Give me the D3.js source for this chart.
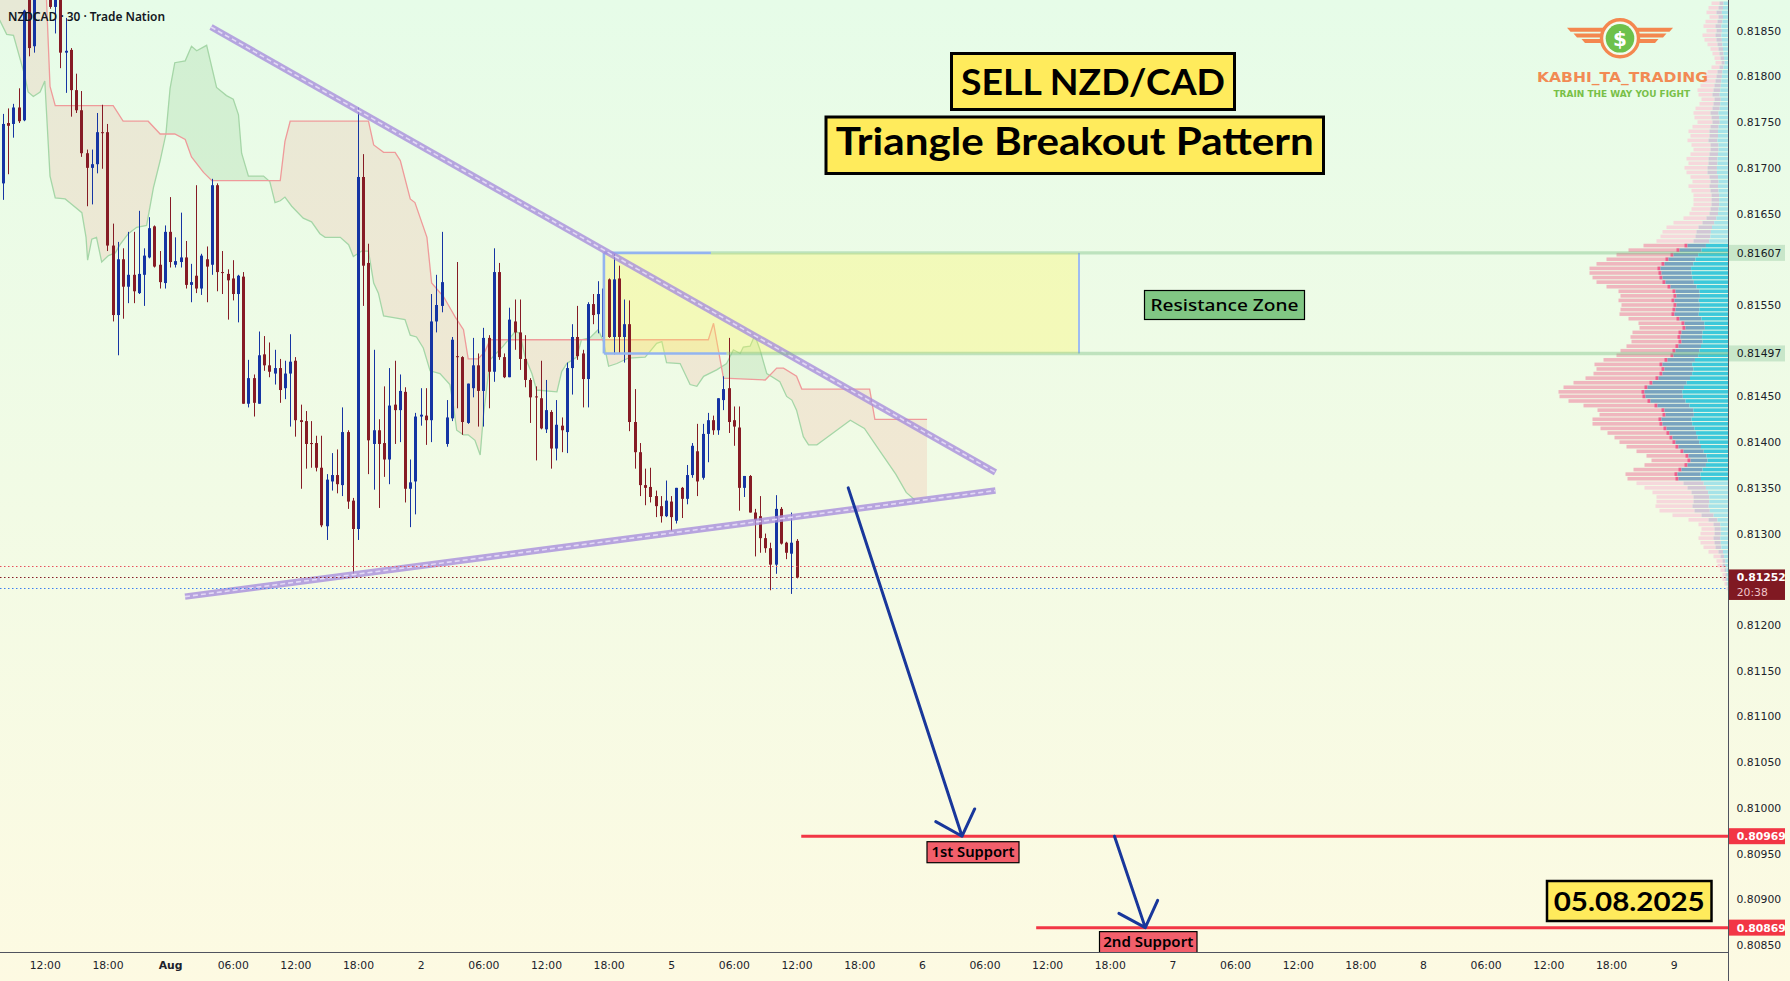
<!DOCTYPE html>
<html>
<head>
<meta charset="utf-8">
<title>NZDCAD 30 - Triangle Breakout</title>
<script src="https://cdn.jsdelivr.net/npm/d3@7"></script>
<style>
  html, body { margin: 0; padding: 0; overflow: hidden; }
  svg { display: block; }
</style>
</head>
<body>
<svg id="chart" width="1790" height="981"></svg>
<script>
// ---- data: NZDCAD 30m bars, bar index 0 = Jul 31 12:00 ----
const candleStart = -8;
const opens = [
  0.81683, 0.81749, 0.81748, 0.81766, 0.81752, 0.81895, 0.81833, 0.81898, 0.81910, 0.81896,
  0.81876, 0.81890, 0.81826, 0.81829, 0.81785, 0.81763, 0.81716, 0.81700, 0.81704, 0.81739,
  0.81739, 0.81615, 0.81539, 0.81600, 0.81570, 0.81583, 0.81563, 0.81583, 0.81602, 0.81636,
  0.81594, 0.81574, 0.81630, 0.81594, 0.81597, 0.81602, 0.81572, 0.81582, 0.81568, 0.81600,
  0.81594, 0.81681, 0.81586, 0.81584, 0.81579, 0.81562, 0.81581, 0.81442, 0.81470, 0.81442,
  0.81496, 0.81484, 0.81475, 0.81481, 0.81459, 0.81475, 0.81489, 0.81424, 0.81423, 0.81399,
  0.81399, 0.81372, 0.81308, 0.81357, 0.81364, 0.81353, 0.81411, 0.81336, 0.81305, 0.81690,
  0.81596, 0.81398, 0.81413, 0.81399, 0.81381, 0.81441, 0.81435, 0.81455, 0.81349, 0.81357,
  0.81428, 0.81429, 0.81424, 0.81532, 0.81549, 0.81398, 0.81426, 0.81494, 0.81493, 0.81421,
  0.81459, 0.81484, 0.81456, 0.81514, 0.81477, 0.81586, 0.81493, 0.81471, 0.81532, 0.81520,
  0.81491, 0.81468, 0.81450, 0.81448, 0.81414, 0.81433, 0.81393, 0.81418, 0.81411, 0.81481,
  0.81515, 0.81497, 0.81469, 0.81551, 0.81540, 0.81515, 0.81578, 0.81515, 0.81579, 0.81515,
  0.81529, 0.81422, 0.81389, 0.81353, 0.81351, 0.81341, 0.81330, 0.81319, 0.81335, 0.81314,
  0.81350, 0.81338, 0.81364, 0.81390, 0.81361, 0.81409, 0.81424, 0.81413, 0.81446, 0.81459,
  0.81424, 0.81416, 0.81350, 0.81363, 0.81323, 0.81319, 0.81295, 0.81284, 0.81266, 0.81327,
  0.81290, 0.81278, 0.81292
];
const highs = [
  0.81759, 0.81765, 0.81770, 0.81787, 0.81873, 0.81900, 0.81905, 0.81918, 0.81915, 0.81900,
  0.81895, 0.81895, 0.81864, 0.81831, 0.81803, 0.81784, 0.81720, 0.81720, 0.81760, 0.81769,
  0.81748, 0.81639, 0.81619, 0.81612, 0.81630, 0.81630, 0.81653, 0.81612, 0.81646, 0.81637,
  0.81609, 0.81637, 0.81668, 0.81624, 0.81651, 0.81620, 0.81595, 0.81681, 0.81606, 0.81614,
  0.81688, 0.81683, 0.81609, 0.81589, 0.81599, 0.81583, 0.81586, 0.81490, 0.81474, 0.81521,
  0.81516, 0.81509, 0.81501, 0.81491, 0.81489, 0.81518, 0.81493, 0.81441, 0.81434, 0.81423,
  0.81407, 0.81407, 0.81365, 0.81388, 0.81392, 0.81438, 0.81413, 0.81339, 0.81766, 0.81715,
  0.81617, 0.81501, 0.81425, 0.81461, 0.81481, 0.81489, 0.81474, 0.81460, 0.81381, 0.81432,
  0.81459, 0.81459, 0.81562, 0.81583, 0.81630, 0.81446, 0.81515, 0.81597, 0.81494, 0.81464,
  0.81514, 0.81497, 0.81525, 0.81517, 0.81612, 0.81596, 0.81497, 0.81547, 0.81556, 0.81556,
  0.81517, 0.81470, 0.81461, 0.81489, 0.81468, 0.81435, 0.81446, 0.81427, 0.81487, 0.81529,
  0.81549, 0.81501, 0.81553, 0.81562, 0.81576, 0.81580, 0.81579, 0.81607, 0.81593, 0.81556,
  0.81555, 0.81458, 0.81399, 0.81371, 0.81372, 0.81347, 0.81341, 0.81358, 0.81341, 0.81350,
  0.81351, 0.81375, 0.81399, 0.81420, 0.81420, 0.81432, 0.81429, 0.81448, 0.81472, 0.81514,
  0.81439, 0.81439, 0.81363, 0.81364, 0.81327, 0.81341, 0.81300, 0.81290, 0.81342, 0.81329,
  0.81291, 0.81323, 0.81294
];
const lows = [
  0.81665, 0.81693, 0.81733, 0.81749, 0.81751, 0.81822, 0.81826, 0.81892, 0.81890, 0.81874,
  0.81847, 0.81809, 0.81782, 0.81756, 0.81760, 0.81712, 0.81658, 0.81660, 0.81694, 0.81699,
  0.81609, 0.81532, 0.81495, 0.81535, 0.81552, 0.81552, 0.81562, 0.81549, 0.81601, 0.81591,
  0.81568, 0.81568, 0.81591, 0.81591, 0.81591, 0.81568, 0.81553, 0.81563, 0.81561, 0.81553,
  0.81583, 0.81565, 0.81562, 0.81534, 0.81555, 0.81531, 0.81442, 0.81438, 0.81428, 0.81442,
  0.81478, 0.81471, 0.81463, 0.81443, 0.81447, 0.81417, 0.81406, 0.81349, 0.81371, 0.81372,
  0.81368, 0.81307, 0.81293, 0.81347, 0.81344, 0.81341, 0.81327, 0.81256, 0.81293, 0.81549,
  0.81365, 0.81348, 0.81328, 0.81362, 0.81354, 0.81398, 0.81400, 0.81334, 0.81307, 0.81321,
  0.81418, 0.81397, 0.81400, 0.81520, 0.81542, 0.81395, 0.81423, 0.81437, 0.81408, 0.81420,
  0.81449, 0.81417, 0.81417, 0.81437, 0.81466, 0.81490, 0.81470, 0.81471, 0.81501, 0.81479,
  0.81460, 0.81421, 0.81380, 0.81414, 0.81410, 0.81371, 0.81380, 0.81389, 0.81388, 0.81452,
  0.81490, 0.81438, 0.81438, 0.81529, 0.81519, 0.81500, 0.81514, 0.81496, 0.81497, 0.81487,
  0.81412, 0.81371, 0.81341, 0.81331, 0.81334, 0.81318, 0.81312, 0.81318, 0.81303, 0.81311,
  0.81317, 0.81332, 0.81361, 0.81341, 0.81359, 0.81378, 0.81408, 0.81408, 0.81435, 0.81410,
  0.81396, 0.81325, 0.81340, 0.81323, 0.81275, 0.81279, 0.81279, 0.81238, 0.81256, 0.81288,
  0.81272, 0.81234, 0.81251
];
const closes = [
  0.81748, 0.81746, 0.81766, 0.81751, 0.81872, 0.81831, 0.81898, 0.81910, 0.81896, 0.81876,
  0.81890, 0.81826, 0.81828, 0.81785, 0.81763, 0.81716, 0.81700, 0.81704, 0.81739, 0.81738,
  0.81615, 0.81539, 0.81600, 0.81570, 0.81583, 0.81565, 0.81584, 0.81604, 0.81634, 0.81592,
  0.81575, 0.81630, 0.81597, 0.81598, 0.81602, 0.81572, 0.81575, 0.81568, 0.81604, 0.81592,
  0.81681, 0.81586, 0.81585, 0.81577, 0.81562, 0.81582, 0.81442, 0.81470, 0.81443, 0.81495,
  0.81484, 0.81477, 0.81481, 0.81457, 0.81475, 0.81488, 0.81424, 0.81422, 0.81398, 0.81398,
  0.81372, 0.81309, 0.81359, 0.81364, 0.81354, 0.81411, 0.81335, 0.81305, 0.81690, 0.81593,
  0.81402, 0.81413, 0.81398, 0.81381, 0.81440, 0.81435, 0.81456, 0.81349, 0.81356, 0.81428,
  0.81430, 0.81424, 0.81532, 0.81550, 0.81575, 0.81427, 0.81512, 0.81493, 0.81422, 0.81464,
  0.81484, 0.81456, 0.81514, 0.81477, 0.81586, 0.81493, 0.81471, 0.81534, 0.81520, 0.81491,
  0.81468, 0.81449, 0.81449, 0.81415, 0.81435, 0.81393, 0.81419, 0.81413, 0.81481, 0.81515,
  0.81494, 0.81469, 0.81551, 0.81539, 0.81562, 0.81568, 0.81515, 0.81578, 0.81515, 0.81529,
  0.81422, 0.81389, 0.81353, 0.81350, 0.81340, 0.81330, 0.81319, 0.81336, 0.81318, 0.81350,
  0.81338, 0.81364, 0.81396, 0.81357, 0.81409, 0.81424, 0.81413, 0.81448, 0.81458, 0.81422,
  0.81417, 0.81350, 0.81363, 0.81323, 0.81315, 0.81295, 0.81284, 0.81266, 0.81327, 0.81289,
  0.81279, 0.81290, 0.81252
];

// Ichimoku leading spans, [bar index, price]
const spanA = [
  [-9, 0.81865], [-8.6, 0.81861], [-7.3, 0.81846], [-6, 0.81845], [-3.8, 0.81800], [-3.2, 0.81783],
  [-2.2, 0.81778], [-0.9, 0.81783], [0, 0.81795], [1, 0.81691], [2, 0.81667], [3.9, 0.81666],
  [5.2, 0.81660], [7.1, 0.81651], [7.9, 0.81624], [8.2, 0.81599], [9, 0.81622], [9.9, 0.81624],
  [10.9, 0.81597], [12.2, 0.81604], [13.5, 0.81607], [14.4, 0.81616], [16, 0.81628], [17.6, 0.81635],
  [19.5, 0.81637], [20.8, 0.81678], [22.1, 0.81708], [23.2, 0.81737], [24, 0.81787], [24.9, 0.81815],
  [26.9, 0.81817], [28.1, 0.81833], [29.1, 0.81828], [31, 0.81834], [32.9, 0.81788], [34.8, 0.81779],
  [36.1, 0.81775], [37.1, 0.81758], [37.7, 0.81716], [39, 0.81691], [41.9, 0.81691], [43.1, 0.81685],
  [44.1, 0.81662], [45.1, 0.81664], [46, 0.81668], [47.3, 0.81658], [49.5, 0.81645], [51.1, 0.81641],
  [52.7, 0.81628], [53.7, 0.81624], [56.6, 0.81624], [58.2, 0.81616], [59.1, 0.81603], [60.7, 0.81609],
  [62, 0.81609], [63, 0.81574], [63.9, 0.81563], [64.9, 0.81538], [67.1, 0.81536], [69, 0.81534],
  [70, 0.81517], [71.2, 0.81515], [72.5, 0.81503], [73.8, 0.81478], [75.7, 0.81475], [77.6, 0.81463],
  [78.3, 0.81439], [78.9, 0.81413], [80.2, 0.81408], [81.1, 0.81408], [82.4, 0.81402], [83.4, 0.81386],
  [84, 0.81428], [85.3, 0.81490], [87.8, 0.81505], [90.1, 0.81521], [91, 0.81519], [92, 0.81493],
  [93.3, 0.81475], [94.2, 0.81457], [98.1, 0.81455], [99, 0.81477], [100, 0.81486], [101.9, 0.81493],
  [102.8, 0.81512], [104.4, 0.81514], [106, 0.81523], [107, 0.81510], [108, 0.81483], [109.6, 0.81486],
  [111.8, 0.81492], [115, 0.81493], [115.9, 0.81499], [117.2, 0.81508], [118.2, 0.81510], [119.1, 0.81487],
  [121.7, 0.81486], [123.6, 0.81463], [124.9, 0.81461], [126.2, 0.81472], [128.7, 0.81479], [130.6, 0.81486],
  [131.9, 0.81501], [133.2, 0.81497], [133.8, 0.81504], [135.1, 0.81505], [136, 0.81517], [137, 0.81501],
  [138.3, 0.81475], [140.8, 0.81466], [142.1, 0.81450], [143.1, 0.81446], [144, 0.81435], [145.3, 0.81406],
  [146.3, 0.81397], [147.9, 0.81397], [149.1, 0.81402], [151.7, 0.81413], [154.3, 0.81424], [157, 0.81415],
  [160, 0.81390], [163, 0.81365], [165, 0.81345], [167, 0.81335], [169, 0.81338]
];
const spanB = [
  [-9, 0.81930], [0, 0.81930], [1, 0.81789], [2, 0.81768], [13.1, 0.81768], [15, 0.81751],
  [19.8, 0.81751], [22.1, 0.81737], [24.9, 0.81737], [26.9, 0.81731], [28.1, 0.81712], [30.4, 0.81695],
  [32, 0.81686], [45.1, 0.81686], [46, 0.81729], [47, 0.81751], [62, 0.81751], [63, 0.81725],
  [64.9, 0.81717], [67.1, 0.81717], [68.1, 0.81708], [70, 0.81666], [70.9, 0.81662], [73.2, 0.81624],
  [74.1, 0.81574], [76.4, 0.81559], [77.6, 0.81547], [78.6, 0.81537], [80.2, 0.81523], [81.1, 0.81491],
  [83, 0.81491], [84.3, 0.81499], [85.3, 0.81512], [127.1, 0.81512], [128.1, 0.81530], [130, 0.81470],
  [138, 0.81468], [140.2, 0.81481], [141.5, 0.81481], [144, 0.81472], [145, 0.81458], [158, 0.81458],
  [159, 0.81425], [169, 0.81425]
];

// drawings
const upperTrend = [[31.84, 0.81854], [182.1, 0.81367]];
const lowerTrend = [[26.86, 0.81231], [182.1, 0.81347]];
const resTop = 0.81607, resBottom = 0.81497;
const resStart = 107.1, resEnd = 198.1, resTopBlueEnd = 127.6, resBottomBlueEnd = 130.6;
const support1 = 0.80969, support1Start = 144.9;
const support2 = 0.80869, support2Start = 189.9;
const arrow1 = [[153.9, 0.81350], [175.7, support1]];
const arrow2 = [[204.9, support1], [210.8, support2]];
const lastPrice = 0.81252, askPrice = 0.81264, bidPrice = 0.81240;

// axis labels (0.81600, 0.81500 and 0.81250 sit under the price tags)
const xLabels = ["12:00", "18:00", "Aug", "06:00", "12:00", "18:00", "2", "06:00", "12:00", "18:00", "5",
  "06:00", "12:00", "18:00", "6", "06:00", "12:00", "18:00", "7", "06:00", "12:00", "18:00", "8",
  "06:00", "12:00", "18:00", "9"];
const priceTicks = [0.8085, 0.8090, 0.8095, 0.8100, 0.8105, 0.8110, 0.8115, 0.8120, 0.8130, 0.8135,
  0.8140, 0.8145, 0.8155, 0.8165, 0.8170, 0.8175, 0.8180, 0.8185];

// visible range volume profile, rows from 0.81880 down in 0.00005 steps
const vpTop = 0.81880, vpStep = 0.00005;
const vpTotal = [
  17, 20, 22, 19, 23, 25, 22, 26, 24, 21, 18, 16, 14, 13, 17, 21, 24, 26, 28, 31,
  30, 27, 29, 33, 35, 34, 31, 36, 40, 38, 41, 37, 35, 38, 42, 40, 44, 42, 38, 36,
  40, 37, 35, 35, 35, 37, 39, 45, 55, 62, 66, 68, 72, 85, 100, 112, 122, 132, 139, 139,
  136, 132, 122, 110, 108, 110, 107, 108, 109, 100, 90, 89, 96, 98, 97, 102, 108, 112, 125, 134,
  132, 135, 143, 155, 165, 170, 169, 160, 145, 131, 129, 136, 136, 128, 121, 114, 109, 102, 92, 82,
  77, 84, 95, 103, 101, 92, 84, 76, 72, 72, 73, 69, 56, 40, 30, 27, 28, 30, 28, 25,
  20, 15, 12, 11, 8, 6, 6, 4, 2
];
const vpUp = [
  9, 10, 12, 10, 11, 13, 12, 13, 12, 11, 10, 9, 8, 7, 9, 11, 12, 13, 14, 15,
  16, 14, 15, 16, 18, 17, 16, 18, 19, 19, 20, 18, 18, 19, 20, 20, 21, 21, 19, 18,
  19, 18, 17, 17, 17, 18, 19, 22, 26, 30, 32, 33, 35, 41, 49, 55, 60, 64, 68, 67,
  66, 63, 58, 53, 52, 54, 52, 53, 54, 49, 44, 43, 47, 48, 47, 50, 53, 55, 61, 66,
  64, 66, 70, 76, 81, 84, 83, 78, 71, 64, 63, 67, 66, 62, 59, 56, 53, 50, 45, 40,
  38, 41, 47, 51, 50, 45, 41, 37, 35, 35, 36, 34, 27, 20, 15, 14, 14, 15, 14, 13,
  10, 8, 6, 6, 4, 3, 3, 2, 1
];
const vaHigh = 0.81617, vaLow = 0.81357;

// ---- layout ----
const W = 1790, H = 981;
const plotRight = 1728.5, plotBottom = 952.5;
const upColor = "#1534a3", downColor = "#861b25";

const svg = d3.select("#chart");
const x = d3.scaleLinear().domain([0, 312]).range([44.8, 1673.6]);
const y = d3.scaleLinear().domain([0.8185, 0.8085]).range([30.7, 945]);
const vpW = d3.scaleLinear().domain([0, 100]).range([0, 100]);

const defs = svg.append("defs");
const bg = defs.append("linearGradient").attr("id", "bg")
  .attr("x1", 0).attr("y1", 0).attr("x2", 0).attr("y2", 1);
bg.append("stop").attr("offset", "0%").attr("stop-color", "#e6fce8");
bg.append("stop").attr("offset", "100%").attr("stop-color", "#fdfae2");
svg.append("rect").attr("width", W).attr("height", H).attr("fill", "url(#bg)");

defs.append("clipPath").attr("id", "plotClip")
  .append("rect").attr("width", plotRight).attr("height", plotBottom);

const lineGen = d3.line().x(d => x(d[0])).y(d => y(d[1]));
const areaAbove = d3.area().x(d => x(d[0])).y0(0).y1(d => y(d[1]));
const areaBelow = d3.area().x(d => x(d[0])).y0(plotBottom).y1(d => y(d[1]));

defs.append("clipPath").attr("id", "aboveA").append("path").attr("d", areaAbove(spanA));
defs.append("clipPath").attr("id", "aboveB").append("path").attr("d", areaAbove(spanB));

const plot = svg.append("g").attr("clip-path", "url(#plotClip)");

// cloud
plot.append("g").attr("clip-path", "url(#aboveB)")
  .append("path").attr("d", areaBelow(spanA)).attr("fill", "rgba(67,160,71,0.13)");
plot.append("g").attr("clip-path", "url(#aboveA)")
  .append("path").attr("d", areaBelow(spanB)).attr("fill", "rgba(244,67,54,0.10)");
plot.append("path").attr("d", lineGen(spanA)).attr("fill", "none")
  .attr("stroke", "#a5d6a7").attr("stroke-width", 1.3);
plot.append("path").attr("d", lineGen(spanB)).attr("fill", "none")
  .attr("stroke", "#ef9a9a").attr("stroke-width", 1.3);

// resistance zone box
plot.append("rect")
  .attr("x", x(resStart)).attr("y", y(resTop))
  .attr("width", x(resEnd) - x(resStart)).attr("height", y(resBottom) - y(resTop))
  .attr("fill", "rgba(255,246,90,0.32)");
plot.append("line").attr("x1", x(resEnd)).attr("x2", x(resEnd))
  .attr("y1", y(resTop)).attr("y2", y(resBottom))
  .attr("stroke", "#9fbdf2").attr("stroke-width", 2);

// candles
const bars = closes.map((c, k) => ({ i: candleStart + k, o: opens[k], h: highs[k], l: lows[k], c }));
const cg = plot.append("g");
cg.selectAll("line").data(bars).join("line")
  .attr("x1", d => Math.round(x(d.i)) + 0.5).attr("x2", d => Math.round(x(d.i)) + 0.5)
  .attr("y1", d => y(d.h)).attr("y2", d => y(d.l))
  .attr("stroke", d => d.c >= d.o ? upColor : downColor).attr("stroke-width", 1);
cg.selectAll("rect").data(bars).join("rect")
  .attr("x", d => Math.round(x(d.i)) - 1)
  .attr("y", d => y(Math.max(d.o, d.c)))
  .attr("width", 3)
  .attr("height", d => Math.max(1, Math.abs(y(d.o) - y(d.c))))
  .attr("fill", d => d.c >= d.o ? upColor : downColor);

// blue edges of the zone drawing
plot.append("line").attr("x1", x(resStart)).attr("x2", x(resStart))
  .attr("y1", y(resTop)).attr("y2", y(resBottom))
  .attr("stroke", "#93b4f0").attr("stroke-width", 2.6);
plot.append("line").attr("x1", x(resStart)).attr("x2", x(resTopBlueEnd))
  .attr("y1", y(resTop)).attr("y2", y(resTop))
  .attr("stroke", "#93b4f0").attr("stroke-width", 2.6);
plot.append("line").attr("x1", x(resStart)).attr("x2", x(resBottomBlueEnd))
  .attr("y1", y(resBottom)).attr("y2", y(resBottom))
  .attr("stroke", "#93b4f0").attr("stroke-width", 2.6);

// triangle trendlines
[upperTrend, lowerTrend].forEach(t => {
  plot.append("path").attr("d", lineGen(t)).attr("fill", "none")
    .attr("stroke", "#a78fdc").attr("stroke-opacity", 0.8).attr("stroke-width", 6.5);
  plot.append("path").attr("d", lineGen(t)).attr("fill", "none")
    .attr("stroke", "#e2d8f5").attr("stroke-width", 1.6).attr("stroke-dasharray", "5,3");
});

// volume profile
const vpRows = vpTotal.map((t, k) => ({ p: vpTop - k * vpStep, t, u: vpUp[k] }));
const rowH = 3.6;
const vg = plot.append("g");
vpRows.forEach(r => {
  const inVA = r.p <= vaHigh && r.p >= vaLow;
  const yy = y(r.p) - rowH / 2;
  const upW = vpW(r.u), totW = vpW(r.t);
  vg.append("rect").attr("x", plotRight - totW).attr("y", yy).attr("width", totW - upW).attr("height", rowH)
    .attr("fill", inVA ? "#efb6be" : "#f6d8dc");
  if (inVA) {
    vg.append("rect").attr("x", plotRight - upW - 3).attr("y", yy).attr("width", 3).attr("height", rowH)
      .attr("fill", "#ee5d8c");
  }
  vg.append("rect").attr("x", plotRight - upW).attr("y", yy).attr("width", upW * 0.45).attr("height", rowH)
    .attr("fill", inVA ? "#78a3bf" : "#d2c7d6");
  vg.append("rect").attr("x", plotRight - upW * 0.55).attr("y", yy).attr("width", upW * 0.55).attr("height", rowH)
    .attr("fill", inVA ? "#3cc8da" : "#a6e3e8");
});

// zone horizontal levels
[[resTop, resTopBlueEnd], [resBottom, resBottomBlueEnd]].forEach(([p, s]) => {
  plot.append("line").attr("x1", x(s)).attr("x2", plotRight).attr("y1", y(p)).attr("y2", y(p))
    .attr("stroke", "rgba(120,190,130,0.4)").attr("stroke-width", 3.4);
});

// bid / last / ask dotted lines
[[askPrice, "#e8505c"], [lastPrice, "#861b25"], [bidPrice, "#3b7ff0"]].forEach(([p, c]) => {
  plot.append("line").attr("x1", 0).attr("x2", plotRight).attr("y1", Math.round(y(p)) + 0.5).attr("y2", Math.round(y(p)) + 0.5)
    .attr("stroke", c).attr("stroke-width", 1).attr("stroke-dasharray", "1.5,2.5");
});

// support levels
[[support1, support1Start], [support2, support2Start]].forEach(([p, s]) => {
  plot.append("line").attr("x1", x(s)).attr("x2", plotRight).attr("y1", y(p)).attr("y2", y(p))
    .attr("stroke", "#f23645").attr("stroke-width", 3);
});

// arrows
[arrow1, arrow2].forEach(a => {
  const sx = x(a[0][0]), sy = y(a[0][1]), tx = x(a[1][0]), ty = y(a[1][1]);
  const len = Math.hypot(sx - tx, sy - ty);
  const rx = (sx - tx) / len, ry = (sy - ty) / len;
  const arm = th => [tx + 30 * (rx * Math.cos(th) - ry * Math.sin(th)), ty + 30 * (rx * Math.sin(th) + ry * Math.cos(th))];
  const l = arm(0.75), r = arm(-0.75);
  plot.append("path")
    .attr("d", `M${sx},${sy}L${tx},${ty}M${l[0]},${l[1]}L${tx},${ty}L${r[0]},${r[1]}`)
    .attr("fill", "none").attr("stroke", "#19379b").attr("stroke-width", 3)
    .attr("stroke-linecap", "round").attr("stroke-linejoin", "round");
});

// text boxes
function labelBox(bx, by, bw, bh, fill, border, txt, fontSize, fontFamily, weight, baseline, tl) {
  plot.append("rect").attr("x", bx).attr("y", by).attr("width", bw).attr("height", bh)
    .attr("fill", fill).attr("stroke", "#000").attr("stroke-width", border);
  const t = plot.append("text").attr("x", bx + bw / 2).attr("y", baseline).attr("text-anchor", "middle")
    .attr("font-family", fontFamily).attr("font-weight", weight).attr("font-size", fontSize)
    .attr("fill", "#000").text(txt);
  if (tl) t.attr("textLength", tl).attr("lengthAdjust", "spacingAndGlyphs");
}
labelBox(951.5, 53.5, 283, 56, "#ffeb5c", 3, "SELL NZD/CAD", 37, "Lato", 700, 95, 264);
labelBox(826, 117, 497.5, 56.5, "#ffeb5c", 3, "Triangle Breakout Pattern", 38.5, "Lato", 700, 155, 478);
labelBox(1144.5, 290.5, 160, 29, "#81c784", 1.2, "Resistance Zone", 17, "Noto Sans", 500, 311, 148);
labelBox(927, y(support1) + 5.5, 92, 21, "#f25f6b", 1.2, "1st Support", 14, "Noto Sans", 600, y(support1) + 21, 83);
labelBox(1099.5, y(support2) + 4, 97.5, 22, "#f25f6b", 1.2, "2nd Support", 14, "Noto Sans", 600, y(support2) + 19.5, 90);
labelBox(1547, 881, 164.5, 40, "#ffeb5c", 2.5, "05.08.2025", 27, "Lato", 700, 910.5, 151);

// header
svg.append("text").attr("x", 8).attr("y", 20.5).attr("font-family", "Noto Sans").attr("font-weight", 600)
  .attr("font-size", 12.5).attr("fill", "#131722").attr("textLength", 157).attr("lengthAdjust", "spacingAndGlyphs")
  .text("NZDCAD · 30 · Trade Nation");

// logo watermark
const logo = svg.append("g");
const wing = "#f4874f";
[[27.7, 1567], [33.4, 1573.5], [39.1, 1581.5]].forEach(([wy, wx]) => {
  logo.append("path").attr("d", `M${wx},${wy}L1608,${wy}L1608,${wy + 4}L${wx + 3.5},${wy + 4}Z`).attr("fill", wing);
  const mx = 2 * 1620 - wx;
  logo.append("path").attr("d", `M${mx},${wy}L1632,${wy}L1632,${wy + 4}L${mx - 3.5},${wy + 4}Z`).attr("fill", wing);
});
logo.append("circle").attr("cx", 1620).attr("cy", 38.3).attr("r", 18.5)
  .attr("fill", "#f2fcef").attr("stroke", wing).attr("stroke-width", 3.4);
logo.append("circle").attr("cx", 1620).attr("cy", 38.3).attr("r", 14.3).attr("fill", "#6dc14b");
logo.append("text").attr("x", 1620).attr("y", 45.8).attr("text-anchor", "middle")
  .attr("font-family", "DejaVu Sans").attr("font-weight", "bold").attr("font-size", 20).attr("fill", "#fff").text("$");
logo.append("text").attr("x", 1537).attr("y", 82.3).attr("textLength", 171).attr("lengthAdjust", "spacingAndGlyphs")
  .attr("font-family", "DejaVu Sans").attr("font-weight", "bold").attr("font-size", 14.5).attr("fill", "#f28a54")
  .text("KABHI_TA_TRADING");
logo.append("text").attr("x", 1553.5).attr("y", 97).attr("textLength", 136.5).attr("lengthAdjust", "spacingAndGlyphs")
  .attr("font-family", "DejaVu Sans").attr("font-weight", "bold").attr("font-size", 8.6).attr("fill", "#78c048")
  .text("TRAIN THE WAY YOU FIGHT");

// axes
const yAxis = d3.axisRight(y).tickValues(priceTicks).tickFormat(d3.format(".5f")).tickSize(0).tickPadding(8);
svg.append("g").attr("transform", `translate(${plotRight},0)`).call(yAxis)
  .attr("font-family", "DejaVu Sans").attr("font-size", 10.8).attr("color", "#20222b")
  .call(g => g.select(".domain").remove());

const xAxis = d3.axisBottom(x).tickValues(d3.range(0, 313, 12)).tickFormat((d, k) => xLabels[k])
  .tickSize(0).tickPadding(9);
svg.append("g").attr("transform", `translate(0,${plotBottom})`).call(xAxis)
  .attr("font-family", "DejaVu Sans").attr("font-size", 10.8).attr("color", "#20222b")
  .call(g => g.select(".domain").remove())
  .call(g => g.selectAll("text").filter(d => xLabels[d / 12] === "Aug").attr("font-weight", "bold"));

svg.append("line").attr("x1", 0).attr("x2", plotRight).attr("y1", plotBottom).attr("y2", plotBottom)
  .attr("stroke", "#50535e").attr("stroke-width", 1);
svg.append("line").attr("x1", plotRight).attr("x2", plotRight).attr("y1", 0).attr("y2", H)
  .attr("stroke", "#50535e").attr("stroke-width", 1);

// price tags on the axis
function priceTag(p, fill, color, weight, h) {
  const g = svg.append("g");
  g.append("rect").attr("x", plotRight + 0.5).attr("y", y(p) - 8).attr("width", 56).attr("height", h)
    .attr("fill", fill);
  g.append("text").attr("x", 1736.7).attr("y", y(p) + 4).attr("font-family", "DejaVu Sans")
    .attr("font-size", 10.8).attr("font-weight", weight).attr("fill", color).text(d3.format(".5f")(p));
  return g;
}
priceTag(resTop, "#c8e6c9", "#131722", 400, 16);
priceTag(resBottom, "#c8e6c9", "#131722", 400, 16);
priceTag(support1, "#f23645", "#fff", 700, 16);
priceTag(support2, "#f23645", "#fff", 700, 16);
priceTag(lastPrice, "#801922", "#fff", 700, 30.5)
  .append("text").attr("x", 1736.7).attr("y", y(lastPrice) + 18.5).attr("font-family", "DejaVu Sans")
  .attr("font-size", 10.8).attr("fill", "#f0c6ca").text("20:38");
</script>
</body>
</html>
